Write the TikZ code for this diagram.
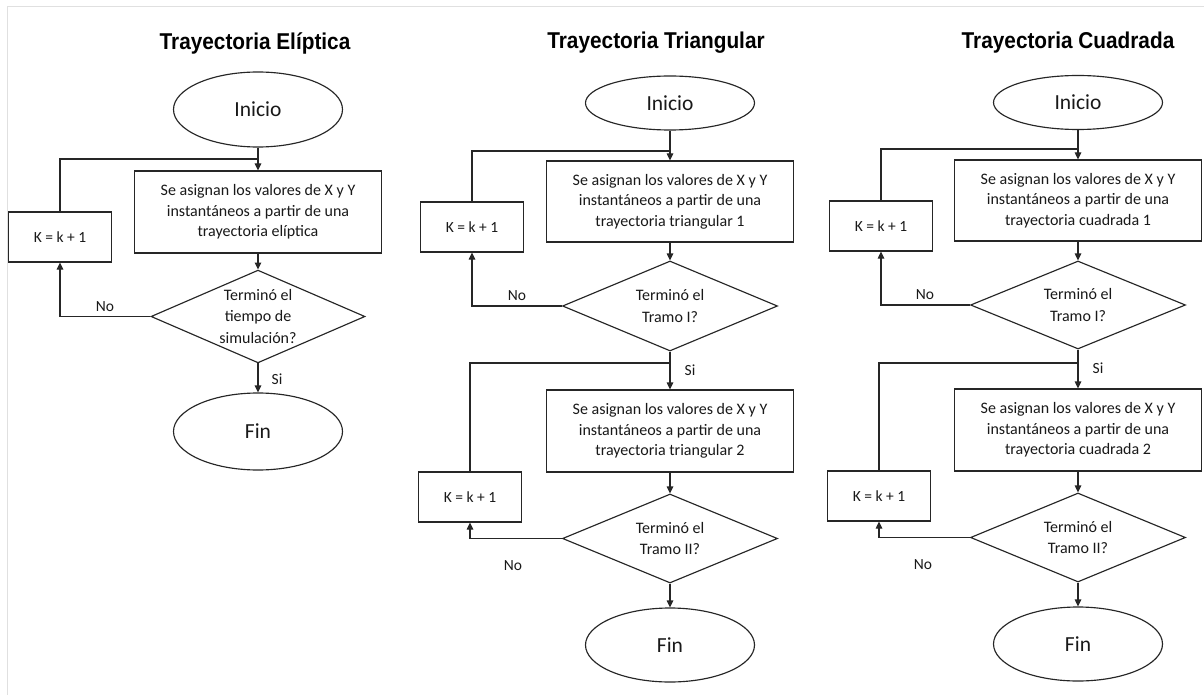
\documentclass[tikz,border=0pt]{standalone}
\usepackage{fontspec}
\setmainfont{Carlito}
\newfontfamily\titlefont{Liberation Sans}
\usetikzlibrary{shapes.geometric,arrows.meta}
\newcommand{\tallttl}[1]{\scalebox{1}[1.1]{#1}}
\begin{document}
\begin{tikzpicture}[x=1pt,y=-1pt,
  every node/.style={inner sep=0pt, text=black!90},
  proc/.style={draw=black!85, line width=1.15pt, rectangle, align=center, minimum width=247pt, minimum height=82pt, font=\fontsize{16}{20.5}\selectfont},
  term/.style={draw=black!85, line width=1.15pt, ellipse, minimum width=169pt, font=\fontsize{21.5}{24}\selectfont},
  decis/.style={draw=black!85, line width=1.15pt, diamond, aspect=2.4, align=center, minimum width=215pt, minimum height=89pt, font=\fontsize{16}{21.5}\selectfont},
  kbox/.style={draw=black!85, line width=1.15pt, rectangle, minimum width=103pt, minimum height=50pt, font=\fontsize{15.5}{18}\selectfont},
  ttl/.style={font=\titlefont\bfseries\fontsize{20.8}{24}\selectfont, text=black},
  lbl/.style={font=\fontsize{15.5}{18}\selectfont},
  line/.style={draw=black!85, line width=1.15pt},
  arr/.style={line, -{Triangle[length=7pt,width=6.5pt]}}
]
\useasboundingbox (0,0) rectangle (1204,695);
\fill[white] (0,0) rectangle (1204,695);
\draw[black!12, line width=1pt] (7,695) -- (7,7) -- (1204,7);

% ---------- Left: Elíptica ----------
\node[ttl] (t1) at (255,43) {\tallttl{Trayectoria Elíptica}};
\node[term, minimum height=75pt] (ini1) at (258,109.5) {Inicio};
\node[proc] (box1) at (258,212) {Se asignan los valores de X y Y\\instantáneos a partir de una\\trayectoria elíptica};
\node[kbox] (k1) at (60,237) {K = k + 1};
\node[decis, aspect=2, minimum width=214pt, minimum height=89pt] (dec1) at (258,316.5) {Terminó el\\tiempo de\\simulación?};
\node[term, minimum height=77pt] (fin1) at (258,431.5) {Fin};
\coordinate (m1) at (258,159);
\draw[arr] (ini1.south) -- (box1.north);
\draw[line] (k1.north) |- (m1);
\draw[arr] (box1.south) -- (dec1.north);
\draw[arr] (dec1.west) -| (k1.south);
\draw[arr] (dec1.south) -- (fin1.north);
\node[lbl] (no1) at (105,307) {No};
\node[lbl] (si1) at (277,379) {Si};

% ---------- Middle: Triangular ----------
\node[ttl] (t2) at (656,43) {\tallttl{Trayectoria Triangular}};
\node[term, minimum height=54pt] (ini2) at (670,103) {Inicio};
\node[proc, minimum height=81pt] (box2a) at (670,201.5) {Se asignan los valores de X y Y\\instantáneos a partir de una\\trayectoria triangular 1};
\node[kbox] (k2a) at (472,227) {K = k + 1};
\node[decis, minimum height=90pt] (dec2a) at (670,306) {Terminó el\\Tramo I?};
\node[proc] (box2b) at (670,431) {Se asignan los valores de X y Y\\instantáneos a partir de una\\trayectoria triangular 2};
\node[kbox] (k2b) at (470,497) {K = k + 1};
\node[decis] (dec2b) at (670,538.5) {Terminó el\\Tramo II?};
\node[term, minimum height=74pt] (fin2) at (670,645) {Fin};
\coordinate (m2a) at (670,151);
\coordinate (m2b) at (670,363);
\draw[arr] (ini2.south) -- (box2a.north);
\draw[line] (k2a.north) |- (m2a);
\draw[arr] (box2a.south) -- (dec2a.north);
\draw[arr] (dec2a.west) -| (k2a.south);
\draw[arr] (dec2a.south) -- (box2b.north);
\draw[line] (k2b.north) |- (m2b);
\draw[arr] (box2b.south) -- (dec2b.north);
\draw[arr] (dec2b.west) -| (k2b.south);
\draw[arr] (dec2b.south) -- (fin2.north);
\node[lbl] (no2a) at (517,296) {No};
\node[lbl] (si2) at (690,370) {Si};
\node[lbl] (no2b) at (513,566) {No};

% ---------- Right: Cuadrada ----------
\node[ttl] (t3) at (1068,43) {\tallttl{Trayectoria Cuadrada}};
\node[term, minimum height=54pt] (ini3) at (1078,102.5) {Inicio};
\node[proc, minimum height=81pt] (box3a) at (1078,200.5) {Se asignan los valores de X y Y\\instantáneos a partir de una\\trayectoria cuadrada 1};
\node[kbox] (k3a) at (881,226) {K = k + 1};
\node[decis, minimum height=88pt] (dec3a) at (1078,305) {Terminó el\\Tramo I?};
\node[proc] (box3b) at (1078,430) {Se asignan los valores de X y Y\\instantáneos a partir de una\\trayectoria cuadrada 2};
\node[kbox] (k3b) at (879,496) {K = k + 1};
\node[decis] (dec3b) at (1078,537.5) {Terminó el\\Tramo II?};
\node[term, minimum height=74pt] (fin3) at (1078,644) {Fin};
\coordinate (m3a) at (1078,149);
\coordinate (m3b) at (1078,363);
\draw[arr] (ini3.south) -- (box3a.north);
\draw[line] (k3a.north) |- (m3a);
\draw[arr] (box3a.south) -- (dec3a.north);
\draw[arr] (dec3a.west) -| (k3a.south);
\draw[arr] (dec3a.south) -- (box3b.north);
\draw[line] (k3b.north) |- (m3b);
\draw[arr] (box3b.south) -- (dec3b.north);
\draw[arr] (dec3b.west) -| (k3b.south);
\draw[arr] (dec3b.south) -- (fin3.north);
\node[lbl] (no3a) at (925,295) {No};
\node[lbl] (si3) at (1098,368) {Si};
\node[lbl] (no3b) at (923,565) {No};
\end{tikzpicture}
\end{document}
